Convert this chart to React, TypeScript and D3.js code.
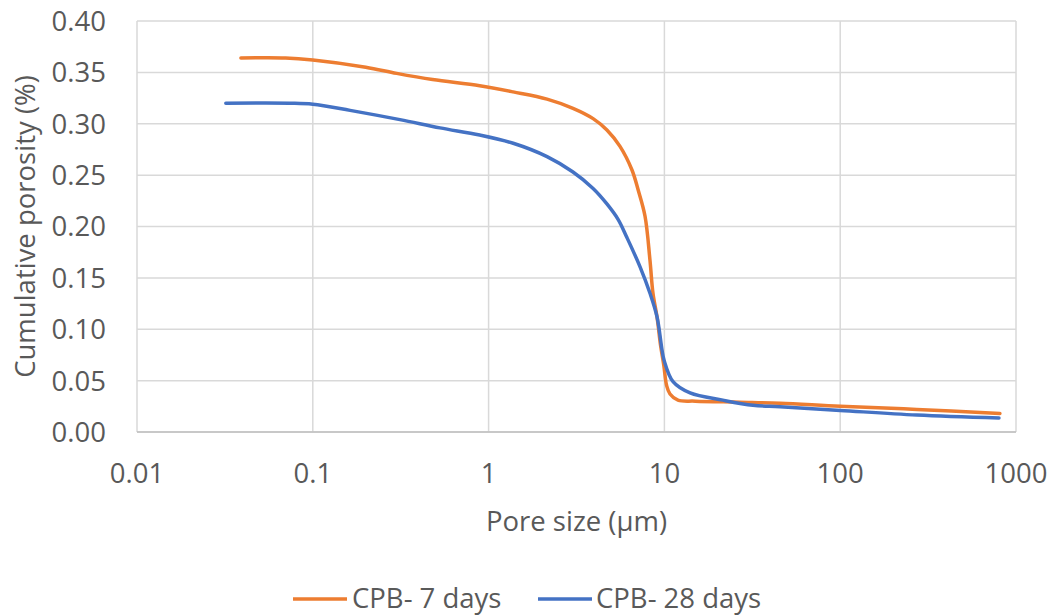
import React from "react";
import * as d3 from "d3";

const xTicks = [0.01, 0.1, 1, 10, 100, 1000];
const xTickLabels = ["0.01", "0.1", "1", "10", "100", "1000"];
const yTicks = [0, 0.05, 0.1, 0.15, 0.2, 0.25, 0.3, 0.35, 0.4];

const size7 = [0.039, 0.07, 0.1, 0.2, 0.3, 0.48, 0.89, 1.38, 2.15, 3.02, 3.93, 4.71, 5.59, 6.54, 7.08, 7.76, 8.28, 8.61, 9.08, 9.5, 9.92, 10.3, 10.76, 11.94, 15, 26.9, 45.5, 100, 273, 810];
const por7 = [0.364, 0.364, 0.362, 0.355, 0.349, 0.343, 0.337, 0.331, 0.324, 0.315, 0.305, 0.294, 0.278, 0.255, 0.236, 0.21, 0.167, 0.135, 0.112, 0.085, 0.065, 0.045, 0.037, 0.031, 0.03, 0.029, 0.028, 0.025, 0.022, 0.018];

const size28 = [0.032, 0.074, 0.1, 0.163, 0.313, 0.529, 0.89, 1.38, 2.15, 3.02, 3.93, 4.71, 5.45, 6.13, 7.26, 8.28, 9.08, 9.69, 9.95, 11.2, 14.0, 21.5, 31.9, 45.5, 100, 273, 800];
const por28 = [0.32, 0.32, 0.319, 0.313, 0.304, 0.296, 0.289, 0.281, 0.268, 0.253, 0.237, 0.222, 0.207, 0.189, 0.161, 0.135, 0.112, 0.08, 0.07, 0.049, 0.038, 0.031, 0.026, 0.0246, 0.021, 0.0165, 0.0136];

const seriesNames = ["CPB- 7 days", "CPB- 28 days"];
const colors = ["#ED7D31", "#4472C4"];

export default function App() {
  const W = 1052, H = 615;
  const left = 137, right = 1016, top = 21, bottom = 432;
  const x = d3.scaleLog().domain([0.01, 1000]).range([left, right]);
  const y = d3.scaleLinear().domain([0, 0.4]).range([bottom, top]);
  const line = d3
    .line<[number, number]>()
    .x((d) => x(d[0]))
    .y((d) => y(d[1]))
    .curve(d3.curveCatmullRom.alpha(0.5));
  const s7 = size7.map((v, i) => [v, por7[i]] as [number, number]);
  const s28 = size28.map((v, i) => [v, por28[i]] as [number, number]);
  const font = "'Open Sans', sans-serif";
  const fs = 27.5;
  const textColor = "#595959";
  return (
    <svg
      width={W}
      height={H}
      style={{ position: "absolute", left: 0, top: 0, background: "#fff" }}
      fontFamily={font}
    >
      <rect x={0} y={0} width={W} height={H} fill="#fff" />
      {yTicks.map((t) => (
        <line key={"gy" + t} x1={left} x2={right} y1={y(t)} y2={y(t)} stroke="#d9d9d9" strokeWidth={1.5} />
      ))}
      {xTicks.map((t) => (
        <line key={"gx" + t} x1={x(t)} x2={x(t)} y1={top} y2={bottom} stroke="#d9d9d9" strokeWidth={1.5} />
      ))}
      <line x1={left} x2={right} y1={bottom} y2={bottom} stroke="#bfbfbf" strokeWidth={1.5} />
      <path d={line(s7) || ""} fill="none" stroke={colors[0]} strokeWidth={3.5} strokeLinejoin="round" strokeLinecap="round" />
      <path d={line(s28) || ""} fill="none" stroke={colors[1]} strokeWidth={3.5} strokeLinejoin="round" strokeLinecap="round" />
      {yTicks.map((t) => (
        <text key={"ty" + t} x={106} y={y(t)} dy="0.36em" textAnchor="end" fontSize={fs} fill={textColor}>
          {t.toFixed(2)}
        </text>
      ))}
      {xTicks.map((t, i) => (
        <text key={"tx" + t} x={x(t)} y={483} textAnchor="middle" fontSize={fs} fill={textColor}>
          {xTickLabels[i]}
        </text>
      ))}
      <text x={(left + right) / 2} y={531} textAnchor="middle" fontSize={fs} fill={textColor}>
        Pore size (µm)
      </text>
      <text
        transform={`translate(35,${(top + bottom) / 2}) rotate(-90)`}
        textAnchor="middle"
        fontSize={fs}
        fill={textColor}
      >
        Cumulative porosity (%)
      </text>
      <line x1={293} x2={347} y1={599} y2={599} stroke={colors[0]} strokeWidth={3.5} />
      <text x={352} y={608} fontSize={fs} fill={textColor}>{seriesNames[0]}</text>
      <line x1={538} x2={592} y1={599} y2={599} stroke={colors[1]} strokeWidth={3.5} />
      <text x={596} y={608} fontSize={fs} fill={textColor}>{seriesNames[1]}</text>
    </svg>
  );
}
